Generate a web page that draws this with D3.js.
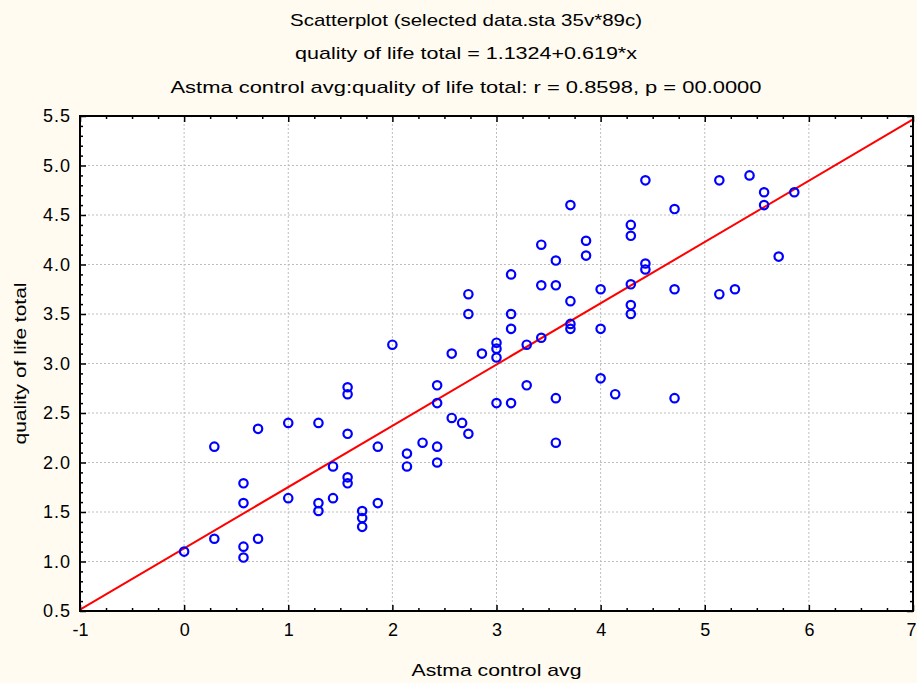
<!DOCTYPE html>
<html>
<head>
<meta charset="utf-8">
<script src="https://cdn.jsdelivr.net/npm/d3@7"></script>
<style>
  html, body { margin: 0; padding: 0; background: #fffbf0; }
  svg { display: block; font-family: "Liberation Sans", Arial, sans-serif; }
</style>
</head>
<body>
<div id="chart"></div>
<script>
// values
var titleLines = [
  "Scatterplot (selected data.sta 35v*89c)",
  "quality of life total = 1.1324+0.619*x",
  "Astma control avg:quality of life total:   r = 0.8598, p = 00.0000"
];
var xLabel = "Astma control avg";
var yLabel = "quality of life total";

var xTicks = [-1, 0, 1, 2, 3, 4, 5, 6, 7];
var yTicks = [0.5, 1.0, 1.5, 2.0, 2.5, 3.0, 3.5, 4.0, 4.5, 5.0, 5.5];

var intercept = 1.1324;
var slope = 0.619;

var asthmaControl = [
  0,
  0.29, 0.29,
  0.57, 0.57, 0.57, 0.57,
  0.71, 0.71,
  1.0, 1.0,
  1.29, 1.29, 1.29,
  1.43, 1.43,
  1.57, 1.57, 1.57, 1.57, 1.57,
  1.71, 1.71, 1.71,
  1.86, 1.86,
  2.0,
  2.14, 2.14,
  2.29,
  2.43, 2.43, 2.43, 2.43,
  2.57, 2.57,
  2.67,
  2.73, 2.73, 2.73,
  2.86,
  3.0, 3.0, 3.0, 3.0,
  3.14, 3.14, 3.14, 3.14,
  3.29, 3.29,
  3.43, 3.43, 3.43,
  3.57, 3.57, 3.57, 3.57,
  3.71, 3.71, 3.71, 3.71,
  3.86, 3.86,
  4.0, 4.0, 4.0,
  4.14,
  4.29, 4.29, 4.29, 4.29, 4.29,
  4.43, 4.43, 4.43,
  4.71, 4.71, 4.71,
  5.14, 5.14,
  5.29,
  5.43,
  5.57, 5.57,
  5.71,
  5.86
];
var qualityOfLife = [
  1.10,
  2.16, 1.23,
  1.79, 1.59, 1.15, 1.04,
  2.34, 1.23,
  2.40, 1.64,
  2.40, 1.59, 1.51,
  1.96, 1.64,
  2.76, 2.69, 2.29, 1.85, 1.79,
  1.51, 1.44, 1.35,
  2.16, 1.59,
  3.19,
  2.09, 1.96,
  2.20,
  2.78, 2.60, 2.16, 2.00,
  3.10, 2.45,
  2.40,
  3.70, 3.50, 2.29,
  3.10,
  3.21, 3.15, 3.06, 2.60,
  3.90, 3.50, 3.35, 2.60,
  3.19, 2.78,
  4.20, 3.79, 3.26,
  4.04, 3.79, 2.65, 2.20,
  4.60, 3.63, 3.40, 3.35,
  4.24, 4.09,
  3.75, 3.35, 2.85,
  2.69,
  4.40, 4.29, 3.80, 3.59, 3.50,
  4.85, 4.01, 3.95,
  4.56, 3.75, 2.65,
  4.85, 3.70,
  3.75,
  4.90,
  4.73, 4.60,
  4.08,
  4.73
];

var width = 917, height = 683;
var margin = {top: 116, right: 4, bottom: 72, left: 80};
var innerW = width - margin.left - margin.right;
var innerH = height - margin.top - margin.bottom;

var svg = d3.select("#chart").append("svg")
  .attr("width", width)
  .attr("height", height);

svg.append("rect")
  .attr("width", width).attr("height", height)
  .attr("fill", "#fffbf0");

// titles
var titleY = [26, 59, 93];
var titleW = [352, 342, 591];
titleLines.forEach(function(t, i) {
  svg.append("text")
    .attr("x", 466).attr("y", titleY[i])
    .attr("text-anchor", "middle")
    .attr("font-size", 17)
    .attr("textLength", titleW[i])
    .attr("lengthAdjust", "spacingAndGlyphs")
    .attr("fill", "#000")
    .text(t);
});

var x = d3.scaleLinear().domain([-1, 7]).range([0, innerW]);
var y = d3.scaleLinear().domain([0.5, 5.5]).range([innerH, 0]);

var g = svg.append("g").attr("transform", "translate(" + margin.left + "," + margin.top + ")");

g.append("rect")
  .attr("width", innerW).attr("height", innerH)
  .attr("fill", "#fff");

// dotted grid at the major ticks
g.append("g").selectAll("line")
  .data(xTicks.slice(1, -1))
  .enter().append("line")
  .attr("x1", function(d) { return x(d); }).attr("x2", function(d) { return x(d); })
  .attr("y1", 0).attr("y2", innerH)
  .attr("stroke", "#bdbdbd").attr("stroke-dasharray", "2,2");

g.append("g").selectAll("line")
  .data(yTicks.slice(1, -1))
  .enter().append("line")
  .attr("y1", function(d) { return y(d); }).attr("y2", function(d) { return y(d); })
  .attr("x1", 0).attr("x2", innerW)
  .attr("stroke", "#bdbdbd").attr("stroke-dasharray", "2,2");

// regression line
var line = d3.line()
  .x(function(d) { return x(d); })
  .y(function(d) { return y(intercept + slope * d); });

g.append("path")
  .datum(x.domain())
  .attr("d", line)
  .attr("fill", "none")
  .attr("stroke", "#ff0000")
  .attr("stroke-width", 2);

// points
var pts = asthmaControl.map(function(v, i) { return [v, qualityOfLife[i]]; });
g.append("g").selectAll("circle")
  .data(pts)
  .enter().append("circle")
  .attr("cx", function(d) { return x(d[0]); })
  .attr("cy", function(d) { return y(d[1]); })
  .attr("r", 4.2)
  .attr("fill", "none")
  .attr("stroke", "#0000ff")
  .attr("stroke-width", 2.2);

// minor tick values
var xMinor = d3.range(-1, 7.001, 0.25).filter(function(d) { return xTicks.indexOf(d) < 0; });
var yMinor = d3.range(5, 56).map(function(d) { return d / 10; })
  .filter(function(d) { return Math.round(d * 10) % 5 !== 0; });

function styleAxis(sel) {
  sel.select(".domain").remove();
  sel.selectAll(".tick line").attr("stroke", "#000").attr("stroke-width", 1.5);
  sel.selectAll("text")
    .attr("font-size", 18)
    .attr("fill", "#000")
    .attr("font-family", "Liberation Sans, Arial, sans-serif");
}

// bottom
var bottomAxis = g.append("g").attr("transform", "translate(0," + innerH + ")")
  .call(d3.axisBottom(x).tickValues(xTicks).tickSize(-6).tickPadding(12)
    .tickFormat(function(d) { return String(d); }))
  .call(styleAxis);
// last label sits against the window edge, as in the reference
bottomAxis.selectAll(".tick text")
  .filter(function(d) { return d === xTicks[xTicks.length - 1]; })
  .attr("text-anchor", "end")
  .attr("x", margin.right - 1);
g.append("g").attr("transform", "translate(0," + innerH + ")")
  .call(d3.axisBottom(x).tickValues(xMinor).tickSize(-3).tickFormat(""))
  .call(styleAxis);
// top
g.append("g")
  .call(d3.axisTop(x).tickValues(xTicks).tickSize(-6).tickFormat(""))
  .call(styleAxis);
g.append("g")
  .call(d3.axisTop(x).tickValues(xMinor).tickSize(-3).tickFormat(""))
  .call(styleAxis);
// left
g.append("g")
  .call(d3.axisLeft(y).tickValues(yTicks).tickSize(-6).tickPadding(9).tickFormat(d3.format(".1f")))
  .call(styleAxis)
  .selectAll("text").attr("letter-spacing", 1);
g.append("g")
  .call(d3.axisLeft(y).tickValues(yMinor).tickSize(-3).tickFormat(""))
  .call(styleAxis);
// right
g.append("g").attr("transform", "translate(" + innerW + ",0)")
  .call(d3.axisRight(y).tickValues(yTicks).tickSize(-6).tickFormat(""))
  .call(styleAxis);
g.append("g").attr("transform", "translate(" + innerW + ",0)")
  .call(d3.axisRight(y).tickValues(yMinor).tickSize(-3).tickFormat(""))
  .call(styleAxis);

// frame
g.append("rect")
  .attr("width", innerW).attr("height", innerH)
  .attr("fill", "none")
  .attr("stroke", "#000")
  .attr("stroke-width", 2);

// axis titles
svg.append("text")
  .attr("x", margin.left + innerW / 2).attr("y", 676)
  .attr("text-anchor", "middle")
  .attr("font-size", 17)
  .attr("textLength", 170)
  .attr("lengthAdjust", "spacingAndGlyphs")
  .text(xLabel);

svg.append("text")
  .attr("transform", "translate(26," + (margin.top + innerH / 2) + ") rotate(-90)")
  .attr("text-anchor", "middle")
  .attr("font-size", 17)
  .attr("textLength", 162)
  .attr("lengthAdjust", "spacingAndGlyphs")
  .text(yLabel);
</script>
</body>
</html>
